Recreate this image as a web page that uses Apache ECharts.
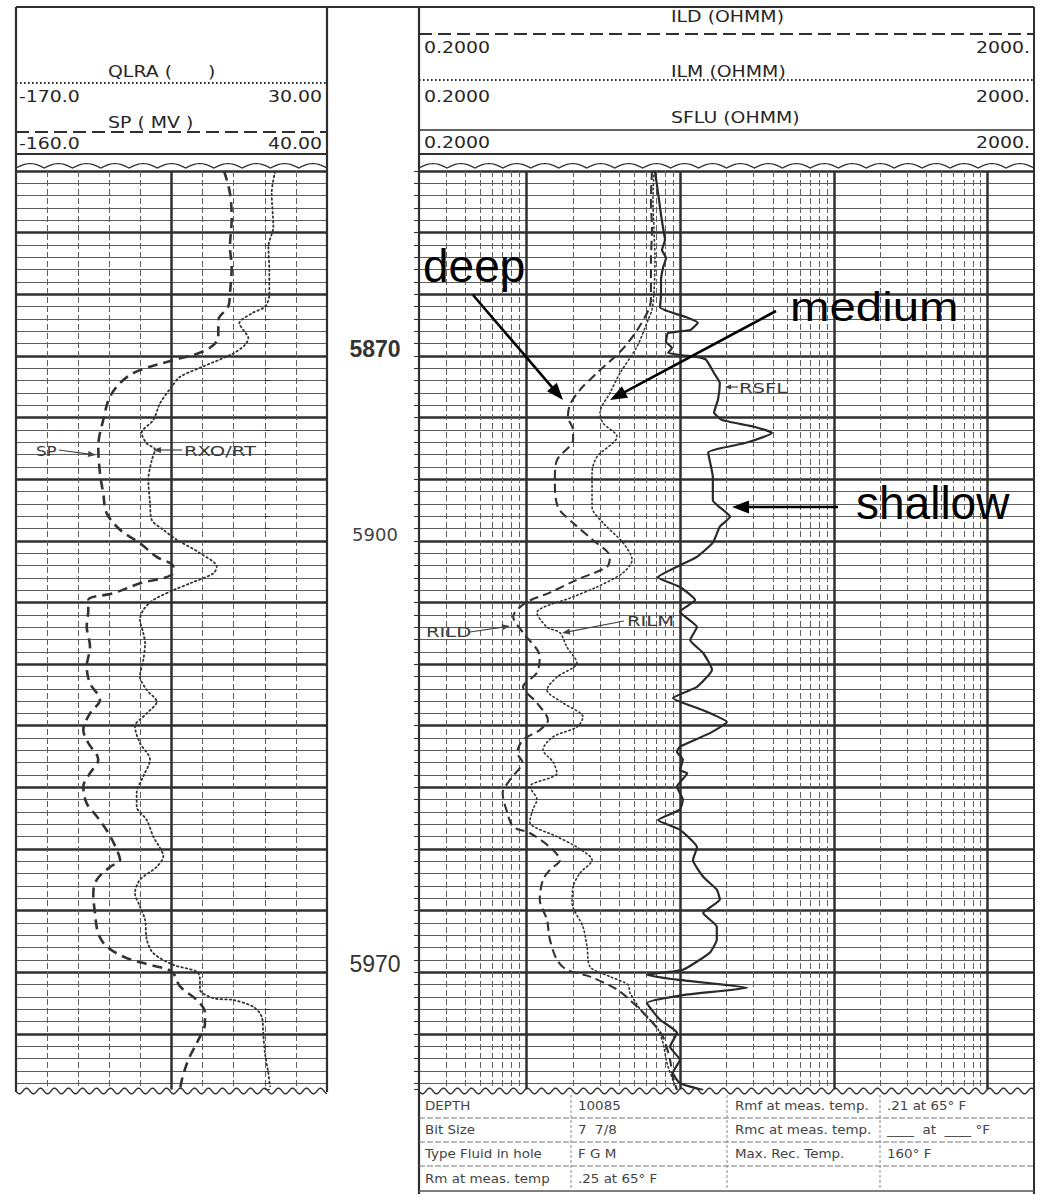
<!DOCTYPE html>
<html><head><meta charset="utf-8">
<script src="https://cdn.jsdelivr.net/npm/echarts@6/dist/echarts.min.js"></script>
<style>html,body{margin:0;padding:0;background:#fff}#chart{width:1038px;height:1195px}</style>
</head><body><div id="chart"></div>
<script>
// ---------------- DATA ----------------
const depthRange = [5840, 5989];          // ft
const depthLabels = [5870, 5900, 5970];   // printed depth numbers
const spScale = [-160, 40];               // SP (MV)
const qlraScale = [-170, 30];             // QLRA
const resScale = [0.2, 2000];             // OHMM, log
const spHeaderLabels = ['-160.0', '40.00'];
const qlraHeaderLabels = ['-170.0', '30.00'];
const resHeaderLabels = ['0.2000', '2000.'];
const spCenterLine = [-60];
const resDecades = [1, 10, 100, 1000];
const resMinor = [0.3,0.4,0.5,0.6,0.7,0.8,0.9,2,3,4,5,6,7,8,9,20,30,40,50,60,70,80,90,200,300,400,500,600,700,800,900];

// [value, depth]
const spCurve = [[-26.2,5840.0],[-22.4,5843.6],[-21.3,5847.9],[-22.4,5852.3],[-21.3,5855.5],[-22.4,5859.8],[-23.5,5862.0],[-29.9,5864.2],[-29.9,5866.9],[-37.4,5869.0],[-58.8,5870.7],[-80.3,5872.3],[-91.0,5873.9],[-99.5,5876.6],[-103.9,5880.4],[-107.1,5884.7],[-106.0,5889.0],[-103.9,5892.3],[-101.7,5895.5],[-93.1,5898.2],[-80.3,5900.4],[-69.5,5902.6],[-58.8,5904.2],[-59.9,5905.5],[-80.3,5906.9],[-97.4,5908.5],[-113.5,5909.6],[-113.5,5911.2],[-114.5,5913.9],[-112.4,5917.2],[-114.5,5920.4],[-112.4,5923.1],[-106.0,5925.8],[-112.4,5928.0],[-116.7,5930.7],[-113.5,5932.8],[-107.1,5935.5],[-112.4,5937.7],[-116.7,5939.9],[-114.5,5942.6],[-108.1,5944.7],[-100.6,5947.4],[-95.2,5950.1],[-93.1,5951.8],[-99.5,5952.9],[-108.1,5955.0],[-110.3,5957.2],[-109.2,5960.4],[-107.1,5963.7],[-101.7,5965.8],[-88.8,5967.7],[-73.8,5968.8],[-59.9,5969.9],[-54.5,5972.3],[-43.8,5974.5],[-38.5,5976.6],[-38.5,5978.3],[-42.8,5981.0],[-49.2,5984.2],[-53.4,5987.5],[-54.5,5989.1]];
const rxoCurve = [[-3.4,5840.1],[-5.6,5843.6],[-4.5,5849.0],[-7.7,5852.3],[-7.1,5856.0],[-7.1,5860.1],[-9.9,5862.0],[-18.4,5863.1],[-26.4,5864.7],[-23.8,5865.8],[-20.6,5867.1],[-22.7,5868.2],[-30.3,5869.6],[-49.5,5871.7],[-64.5,5873.4],[-69.9,5875.0],[-77.4,5877.7],[-81.7,5880.4],[-89.2,5882.5],[-85.9,5884.2],[-80.6,5885.2],[-82.7,5886.9],[-84.9,5890.1],[-83.8,5893.9],[-82.7,5896.6],[-75.3,5898.2],[-66.7,5899.8],[-51.7,5902.0],[-40.9,5904.2],[-43.1,5905.3],[-58.1,5906.9],[-68.8,5908.0],[-81.7,5909.6],[-88.1,5911.2],[-90.3,5912.8],[-88.1,5915.0],[-87.0,5916.6],[-88.1,5919.3],[-90.3,5922.0],[-85.9,5924.2],[-79.5,5926.1],[-85.9,5928.0],[-93.5,5930.1],[-90.3,5932.8],[-83.8,5935.5],[-88.1,5938.2],[-92.4,5940.9],[-92.4,5943.1],[-85.9,5945.3],[-81.7,5948.0],[-75.3,5951.2],[-79.5,5952.9],[-90.3,5955.0],[-93.5,5957.2],[-90.3,5959.3],[-87.0,5961.5],[-85.9,5964.7],[-81.7,5966.9],[-68.8,5968.8],[-53.8,5969.9],[-51.7,5971.2],[-51.7,5972.8],[-43.1,5974.2],[-30.3,5974.5],[-17.4,5975.6],[-12.0,5977.2],[-11.0,5979.9],[-9.9,5983.1],[-7.7,5986.4],[-6.7,5988.5]];
const ildCurve = [[6.55,5840.0],[6.45,5844.7],[6.55,5849.6],[6.45,5854.4],[6.45,5860.9],[5.47,5865.1],[4.18,5869.0],[2.92,5872.6],[2.23,5875.5],[1.92,5877.9],[1.86,5879.9],[2.01,5882.0],[2.01,5883.6],[1.58,5886.9],[1.53,5890.1],[1.60,5894.5],[2.01,5897.1],[2.71,5899.9],[3.49,5902.6],[3.34,5904.2],[2.13,5906.3],[1.42,5908.4],[0.98,5910.1],[0.82,5912.3],[0.95,5914.9],[1.22,5918.8],[1.17,5921.4],[0.95,5923.7],[1.17,5926.3],[1.38,5929.1],[1.22,5930.7],[0.95,5932.3],[0.87,5934.4],[0.94,5935.9],[0.78,5938.8],[0.70,5940.9],[0.75,5944.1],[0.82,5946.4],[1.05,5947.4],[1.42,5949.7],[1.65,5951.8],[1.42,5953.4],[1.28,5955.0],[1.22,5958.2],[1.36,5961.5],[1.42,5964.7],[1.58,5968.0],[1.83,5969.6],[2.59,5970.7],[3.88,5972.8],[4.71,5974.5],[6.36,5977.7],[7.73,5980.5],[8.58,5984.2],[8.97,5987.0],[9.53,5989.1]];
const ilmCurve = [[6.75,5840.0],[6.65,5844.7],[6.75,5849.6],[6.85,5854.4],[6.75,5859.8],[6.55,5862.5],[6.17,5864.2],[5.23,5868.5],[4.06,5872.8],[3.49,5876.0],[3.01,5879.2],[3.15,5880.9],[3.88,5883.1],[2.87,5886.4],[2.67,5889.0],[2.67,5894.5],[3.15,5897.1],[4.24,5900.3],[4.86,5903.1],[4.24,5905.2],[2.87,5907.5],[2.01,5909.1],[1.17,5911.7],[1.36,5914.0],[1.65,5914.9],[1.83,5917.2],[2.13,5919.8],[1.58,5922.1],[1.36,5924.2],[1.73,5926.3],[2.33,5928.6],[2.13,5930.2],[1.49,5931.8],[1.28,5933.9],[1.49,5935.9],[1.58,5937.7],[1.05,5939.9],[1.17,5942.0],[1.10,5943.6],[1.05,5945.6],[1.58,5948.0],[2.13,5949.7],[2.67,5951.8],[2.23,5953.9],[2.01,5956.1],[1.98,5958.7],[2.33,5962.6],[2.48,5965.9],[2.59,5969.1],[3.49,5970.7],[4.57,5972.0],[4.71,5973.3],[5.72,5976.6],[7.06,5978.9],[7.73,5981.5],[8.20,5984.7],[8.97,5987.5],[9.53,5989.1]];
const sfluCurve = [[6.85,5840.0],[7.06,5842.3],[7.28,5844.7],[7.50,5847.1],[7.73,5849.2],[7.96,5851.2],[7.61,5852.8],[8.08,5854.1],[7.73,5855.7],[7.50,5857.7],[7.50,5860.1],[7.39,5862.1],[10.9,5863.7],[13.0,5864.6],[11.6,5865.8],[8.33,5866.3],[8.08,5867.7],[8.84,5868.7],[8.33,5869.5],[13.0,5870.2],[14.7,5870.6],[16.6,5872.8],[18.1,5874.4],[17.6,5877.1],[16.6,5879.2],[18.7,5880.4],[30.2,5881.5],[39.5,5882.5],[26.8,5884.1],[15.2,5885.7],[16.3,5889.6],[16.3,5893.4],[21.1,5896.1],[18.1,5897.7],[16.3,5900.3],[12.85,5902.6],[9.53,5904.2],[7.17,5905.9],[9.96,5907.5],[12.5,5909.6],[9.96,5911.5],[12.85,5914.0],[11.6,5916.1],[14.1,5918.2],[16.1,5920.9],[12.85,5923.7],[8.97,5925.5],[14.1,5927.5],[20.1,5929.4],[15.6,5931.2],[9.96,5933.4],[9.53,5934.2],[10.4,5935.5],[9.96,5937.2],[11.1,5937.7],[9.53,5939.9],[10.4,5942.0],[9.96,5943.6],[7.17,5945.3],[9.96,5946.9],[12.85,5949.7],[12.1,5951.8],[14.1,5954.5],[17.3,5956.6],[18.1,5958.2],[14.1,5960.4],[17.3,5962.6],[17.3,5964.7],[15.6,5966.8],[10.4,5969.6],[6.08,5970.4],[9.53,5971.2],[27.2,5972.5],[10.4,5973.7],[6.08,5975.0],[7.39,5977.7],[9.53,5979.8],[8.58,5982.1],[9.96,5984.2],[8.97,5986.3],[9.96,5988.0],[14.1,5989.1]];

const tableRows = [
  ['DEPTH', '10085', 'Rmf at meas. temp.', '.21 at 65° F'],
  ['Bit Size', '7  7/8', 'Rmc at meas. temp.', '____  at  ____ °F'],
  ['Type Fluid in hole', 'F G M', 'Max. Rec. Temp.', '160° F'],
  ['Rm at meas. temp', '.25 at 65° F', '', '']
];

// ---------------- LAYOUT / STYLE ----------------
const INK = '#2f2f2f', MINOR = '#5e5e5e';
const L = {x0: 16, x1: 327}, R = {x0: 419, x1: 1034};
const TOP = 171, H = 918.4;
const HF = 'DejaVu Sans';
const AF = '"Liberation Sans", Arial, sans-serif';

const chart = echarts.init(document.getElementById('chart'), null, {renderer: 'svg'});

function yAxisCfg(grid, pos, labels) {
  return {
    type: 'value', gridIndex: grid, inverse: true, min: depthRange[0], max: depthRange[1], interval: 10,
    position: pos,
    axisLine: {show: false},
    axisTick: {show: true, inside: false, length: 5, lineStyle: {color: INK, width: 1}},
    minorTick: {show: true, splitNumber: 5, length: 5, lineStyle: {color: INK, width: 1}},
    splitLine: {show: true, showMinLine: true, showMaxLine: false, lineStyle: {color: INK, width: 2.5}},
    minorSplitLine: {show: true, lineStyle: {color: MINOR, width: 1}},
    axisLabel: labels ? {
      show: true, align: 'center', margin: 48,
      formatter: v => {
        const i = depthLabels.indexOf(v);
        return i < 0 ? '' : '{d' + i + '|' + v + '}';
      },
      rich: {
        d0: {fontFamily: AF, fontWeight: 'bold', fontSize: 23, color: '#333', padding: [0, 0, 14, 0]},
        d1: {fontFamily: HF, fontSize: 18, color: '#444', padding: [0, 0, 12, 0]},
        d2: {fontFamily: AF, fontSize: 23, color: '#333', padding: [0, 0, 16, 0]}
      }
    } : {show: false}
  };
}

const markLineBase = {silent: true, symbol: ['none', 'none'], label: {show: false}, emphasis: {disabled: true}, animation: false};

// ---------- graphic helpers (decoration, headers, annotations) ----------
const G = [];
function gl(x1, y1, x2, y2, w, dash, col) {
  G.push({type: 'line', silent: true, z: 50, shape: {x1, y1, x2, y2},
    style: {stroke: col || INK, lineWidth: w || 1.5, lineDash: dash || null}});
}
function gt(text, x, y, o) {
  o = o || {};
  G.push({type: 'text', silent: true, z: 60, x, y, scaleX: o.sx || 1, scaleY: o.sy || 1,
    style: {text, fill: o.color || '#333', font: (o.weight || 'normal') + ' ' + (o.size || 15) + 'px ' + (o.family || HF),
      align: o.align || 'left', verticalAlign: o.va || 'middle'}});
}
function arrow(x1, y1, x2, y2, w, hl, hw, col) {
  const a = Math.atan2(y2 - y1, x2 - x1), c = Math.cos(a), s = Math.sin(a);
  const bx = x2 - hl * c, by = y2 - hl * s;
  gl(x1, y1, bx + c * 1, by + s * 1, w, null, col);
  G.push({type: 'polygon', silent: true, z: 60, shape: {points: [[x2, y2], [bx - hw / 2 * s, by + hw / 2 * c], [bx + hw / 2 * s, by - hw / 2 * c]]},
    style: {fill: col || INK}});
}
function scallops(x0, x1, yBase, amp, wdt) {
  const pts = [];
  const n = Math.max(1, Math.round((x1 - x0) / wdt)), w = (x1 - x0) / n;
  for (let i = 0; i < n; i++) for (let k = 0; k <= 10; k++) {
    const t = k / 10; pts.push([x0 + (i + t) * w, yBase - amp * Math.sin(Math.PI * t)]);
  }
  G.push({type: 'polyline', silent: true, z: 50, shape: {points: pts}, style: {stroke: INK, lineWidth: 1.2, fill: null}});
}
function wave(x0, x1, yc, amp, per) {
  const pts = [];
  for (let x = x0; x <= x1; x += 1) pts.push([x, yc + amp * Math.sin(2 * Math.PI * (x - x0) / per)]);
  G.push({type: 'rect', silent: true, z: 49, shape: {x: x0, y: yc, width: x1 - x0, height: 6}, style: {fill: '#fff'}});
  G.push({type: 'polyline', silent: true, z: 50, shape: {points: pts}, style: {stroke: INK, lineWidth: 1.3, fill: null}});
}

// frame
gl(L.x0, 7, R.x1, 7, 2);
gl(L.x0, 7, L.x0, 1092, 2.2);
gl(L.x1, 7, L.x1, 1092, 2.2);
gl(R.x0, 7, R.x0, 1194, 2.2);
gl(R.x1, 7, R.x1, 1194, 2);
gl(L.x0, 154, L.x1, 154, 2);
gl(R.x0, 154, R.x1, 154, 2);
// header curve keys
gl(L.x0, 83, L.x1, 83, 2, [1.6, 2.4]);
gl(L.x0, 132, L.x1, 132, 2, [13, 6]);
gl(R.x0, 34, R.x1, 34, 2, [13, 6]);
gl(R.x0, 80, R.x1, 80, 2, [1.6, 2.4]);
gl(R.x0, 130, R.x1, 130, 1.6);
// header texts
const hs = {size: 15.5, sx: 1.22, color: '#262626'};
gt('QLRA (      )', 108, 72, hs);
gt(qlraHeaderLabels[0], 19, 97, hs);
gt(qlraHeaderLabels[1], 322, 97, Object.assign({align: 'right'}, hs));
gt('SP ( MV )', 108, 123, hs);
gt(spHeaderLabels[0], 19, 144, hs);
gt(spHeaderLabels[1], 322, 144, Object.assign({align: 'right'}, hs));
gt('ILD (OHMM)', 671, 17, hs);
gt('ILM (OHMM)', 671, 72, hs);
gt('SFLU (OHMM)', 671, 118, hs);
[48, 97, 143].forEach(y => {
  gt(resHeaderLabels[0], 424, y, hs);
  gt(resHeaderLabels[1], 1030, y, Object.assign({align: 'right'}, hs));
});
// torn edges
scallops(L.x0, L.x1, 168, 4.5, 28);
scallops(R.x0, R.x1, 168, 4.5, 28);
wave(L.x0, L.x1, 1091, 2.8, 14);
wave(R.x0, R.x1, 1091, 2.8, 14);
// table
const colX = [425, 578, 735, 887], divX = [571, 727, 880];
const rowY = [1106, 1130, 1154, 1179], sepY = [1118, 1142, 1166];
sepY.forEach(y => gl(R.x0, y, R.x1, y, 1, [6, 2], '#777'));
gl(R.x0, 1191, R.x1, 1191, 1.5, null, '#555');
divX.forEach(x => gl(x, 1095, x, 1191, 1, [3, 2], '#888'));
tableRows.forEach((row, r) => row.forEach((t, c) => { if (t) gt(t, colX[c], rowY[r], {size: 12, sx: 1.12, color: '#444'}); }));
// curve tags
const ts = {size: 14.5, sx: 1.35, color: '#3a3a3a'};
gt('SP', 36, 451, {size: 14.5, sx: 1.15, color: '#3a3a3a'}); arrow(59, 450, 96, 455, 1.2, 8, 6, '#444');
gt('RXO/RT', 184, 451, ts); arrow(182, 450, 153, 450, 1.2, 8, 6, '#444');
gt('RILD', 426, 632, ts); arrow(470, 632, 510, 626, 1.2, 8, 6, '#444');
gt('RILM', 627, 621, ts); arrow(624, 621, 562, 633, 1.2, 8, 6, '#444');
gt('RSFL', 739, 388, ts); arrow(738, 387, 725, 387, 1.2, 6, 5, '#444');
// big annotations
const bs = {size: 46, family: AF, color: '#000'};
gt('deep', 423, 266, bs);
gt('medium', 790, 307, Object.assign({sy: 0.88, sx: 1.03}, bs));
gt('shallow', 856, 503, bs);
arrow(473, 295, 563, 400, 2.6, 17, 13, '#000');
arrow(776, 311, 610, 400, 2.6, 17, 13, '#000');
arrow(838, 507, 732, 507, 2.6, 17, 13, '#000');

const curveBase = {type: 'line', symbol: 'none', showSymbol: false, clip: true, emphasis: {disabled: true}, z: 5, animation: false};

chart.setOption({
  animation: false,
  backgroundColor: '#fff',
  grid: [
    {left: L.x0, top: TOP, width: L.x1 - L.x0, height: H, outerBoundsMode: 'none'},
    {left: R.x0, top: TOP, width: R.x1 - R.x0, height: H, outerBoundsMode: 'none'}
  ],
  xAxis: [
    {type: 'value', gridIndex: 0, min: spScale[0], max: spScale[1], interval: 20, position: 'top',
      axisLine: {show: false}, axisTick: {show: false}, axisLabel: {show: false},
      splitLine: {show: true, showMinLine: false, showMaxLine: false, lineStyle: {color: MINOR, width: 1, type: [6, 3]}}},
    {type: 'value', gridIndex: 0, min: qlraScale[0], max: qlraScale[1], show: false, splitLine: {show: false}},
    {type: 'log', gridIndex: 1, logBase: 10, min: resScale[0], max: resScale[1], position: 'top',
      axisLine: {show: false}, axisTick: {show: false}, axisLabel: {show: false}, splitLine: {show: false}}
  ],
  yAxis: [yAxisCfg(0, 'right', true), yAxisCfg(1, 'left', false)],
  series: [
    Object.assign({}, curveBase, {name: 'grid-left', xAxisIndex: 0, yAxisIndex: 0, data: [], z: 1,
      markLine: Object.assign({}, markLineBase, {lineStyle: {color: INK, width: 2.5, type: 'solid'}, data: spCenterLine.map(v => ({xAxis: v}))})}),
    Object.assign({}, curveBase, {name: 'grid-right-minor', xAxisIndex: 2, yAxisIndex: 1, data: [], z: 1,
      markLine: Object.assign({}, markLineBase, {lineStyle: {color: MINOR, width: 1, type: [6, 3]}, data: resMinor.map(v => ({xAxis: v}))})}),
    Object.assign({}, curveBase, {name: 'grid-right-major', xAxisIndex: 2, yAxisIndex: 1, data: [], z: 1,
      markLine: Object.assign({}, markLineBase, {lineStyle: {color: INK, width: 2.5, type: 'solid'}, data: resDecades.map(v => ({xAxis: v}))})}),
    Object.assign({}, curveBase, {name: 'SP', xAxisIndex: 0, yAxisIndex: 0, data: spCurve, smooth: 0.35,
      lineStyle: {color: '#333', width: 2.6, type: [10, 6]}}),
    Object.assign({}, curveBase, {name: 'RXO/RT', xAxisIndex: 1, yAxisIndex: 0, data: rxoCurve, smooth: 0.3,
      lineStyle: {color: '#333', width: 1.8, type: [1.5, 3], cap: 'round'}}),
    Object.assign({}, curveBase, {name: 'ILD', xAxisIndex: 2, yAxisIndex: 1, data: ildCurve, smooth: 0.3,
      lineStyle: {color: '#333', width: 2.1, type: [9, 5]}}),
    Object.assign({}, curveBase, {name: 'ILM', xAxisIndex: 2, yAxisIndex: 1, data: ilmCurve, smooth: 0.3,
      lineStyle: {color: '#333', width: 1.6, type: [1.5, 2.8], cap: 'round'}}),
    Object.assign({}, curveBase, {name: 'SFLU', xAxisIndex: 2, yAxisIndex: 1, data: sfluCurve, smooth: 0.15,
      lineStyle: {color: '#2a2a2a', width: 2.2, type: 'solid'}})
  ],
  graphic: {elements: G}
});
</script>
</body></html>
